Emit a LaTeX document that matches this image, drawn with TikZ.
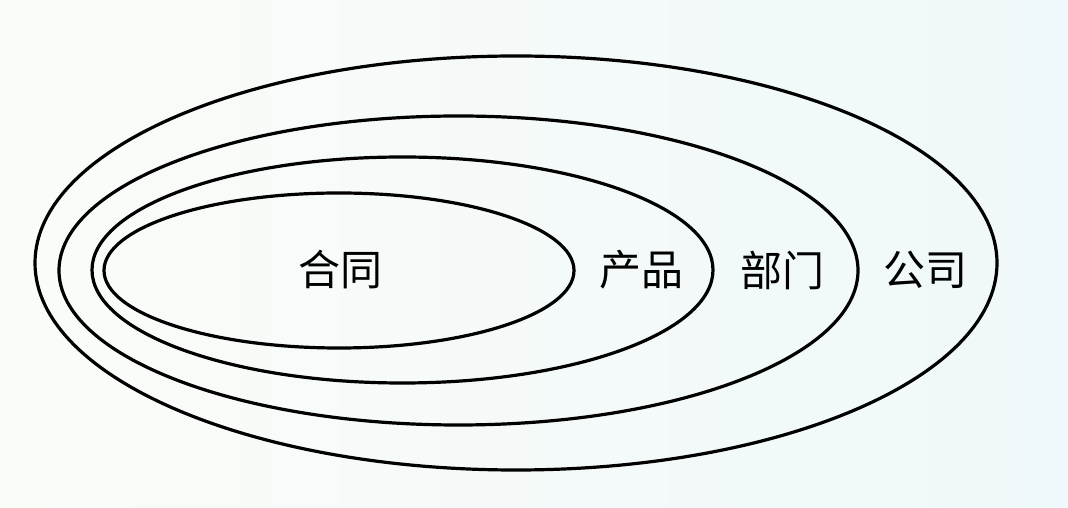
\documentclass[tikz,border=0pt]{standalone}
\usepackage{fontspec}
\newfontfamily\cjk{Noto Sans CJK SC}
\begin{document}
\begin{tikzpicture}[x=1pt,y=1pt,
  ring/.style={draw=black,line width=3.2pt},
  lbl/.style={font=\cjk\fontsize{42}{42}\selectfont,inner sep=0pt}]
\useasboundingbox (0,0) rectangle (1068,508);
\shade[left color={rgb,255:red,250;green,252;blue,248},right color={rgb,255:red,239;green,248;blue,250}] (0,0) rectangle (1068,508);
\draw[ring] (516,245) ellipse [x radius=481, y radius=207];
\draw[ring] (458.5,237.5) ellipse [x radius=399.5, y radius=154.5];
\draw[ring] (402.5,238) ellipse [x radius=310.5, y radius=113];
\draw[ring] (339,237.5) ellipse [x radius=235, y radius=77.5];
\node[lbl] (he) at (340,238) {合同};
\node[lbl] (chan) at (641,238) {产品};
\node[lbl] (bu) at (782,238) {部门};
\node[lbl] (gong) at (925,238) {公司};
\end{tikzpicture}
\end{document}
